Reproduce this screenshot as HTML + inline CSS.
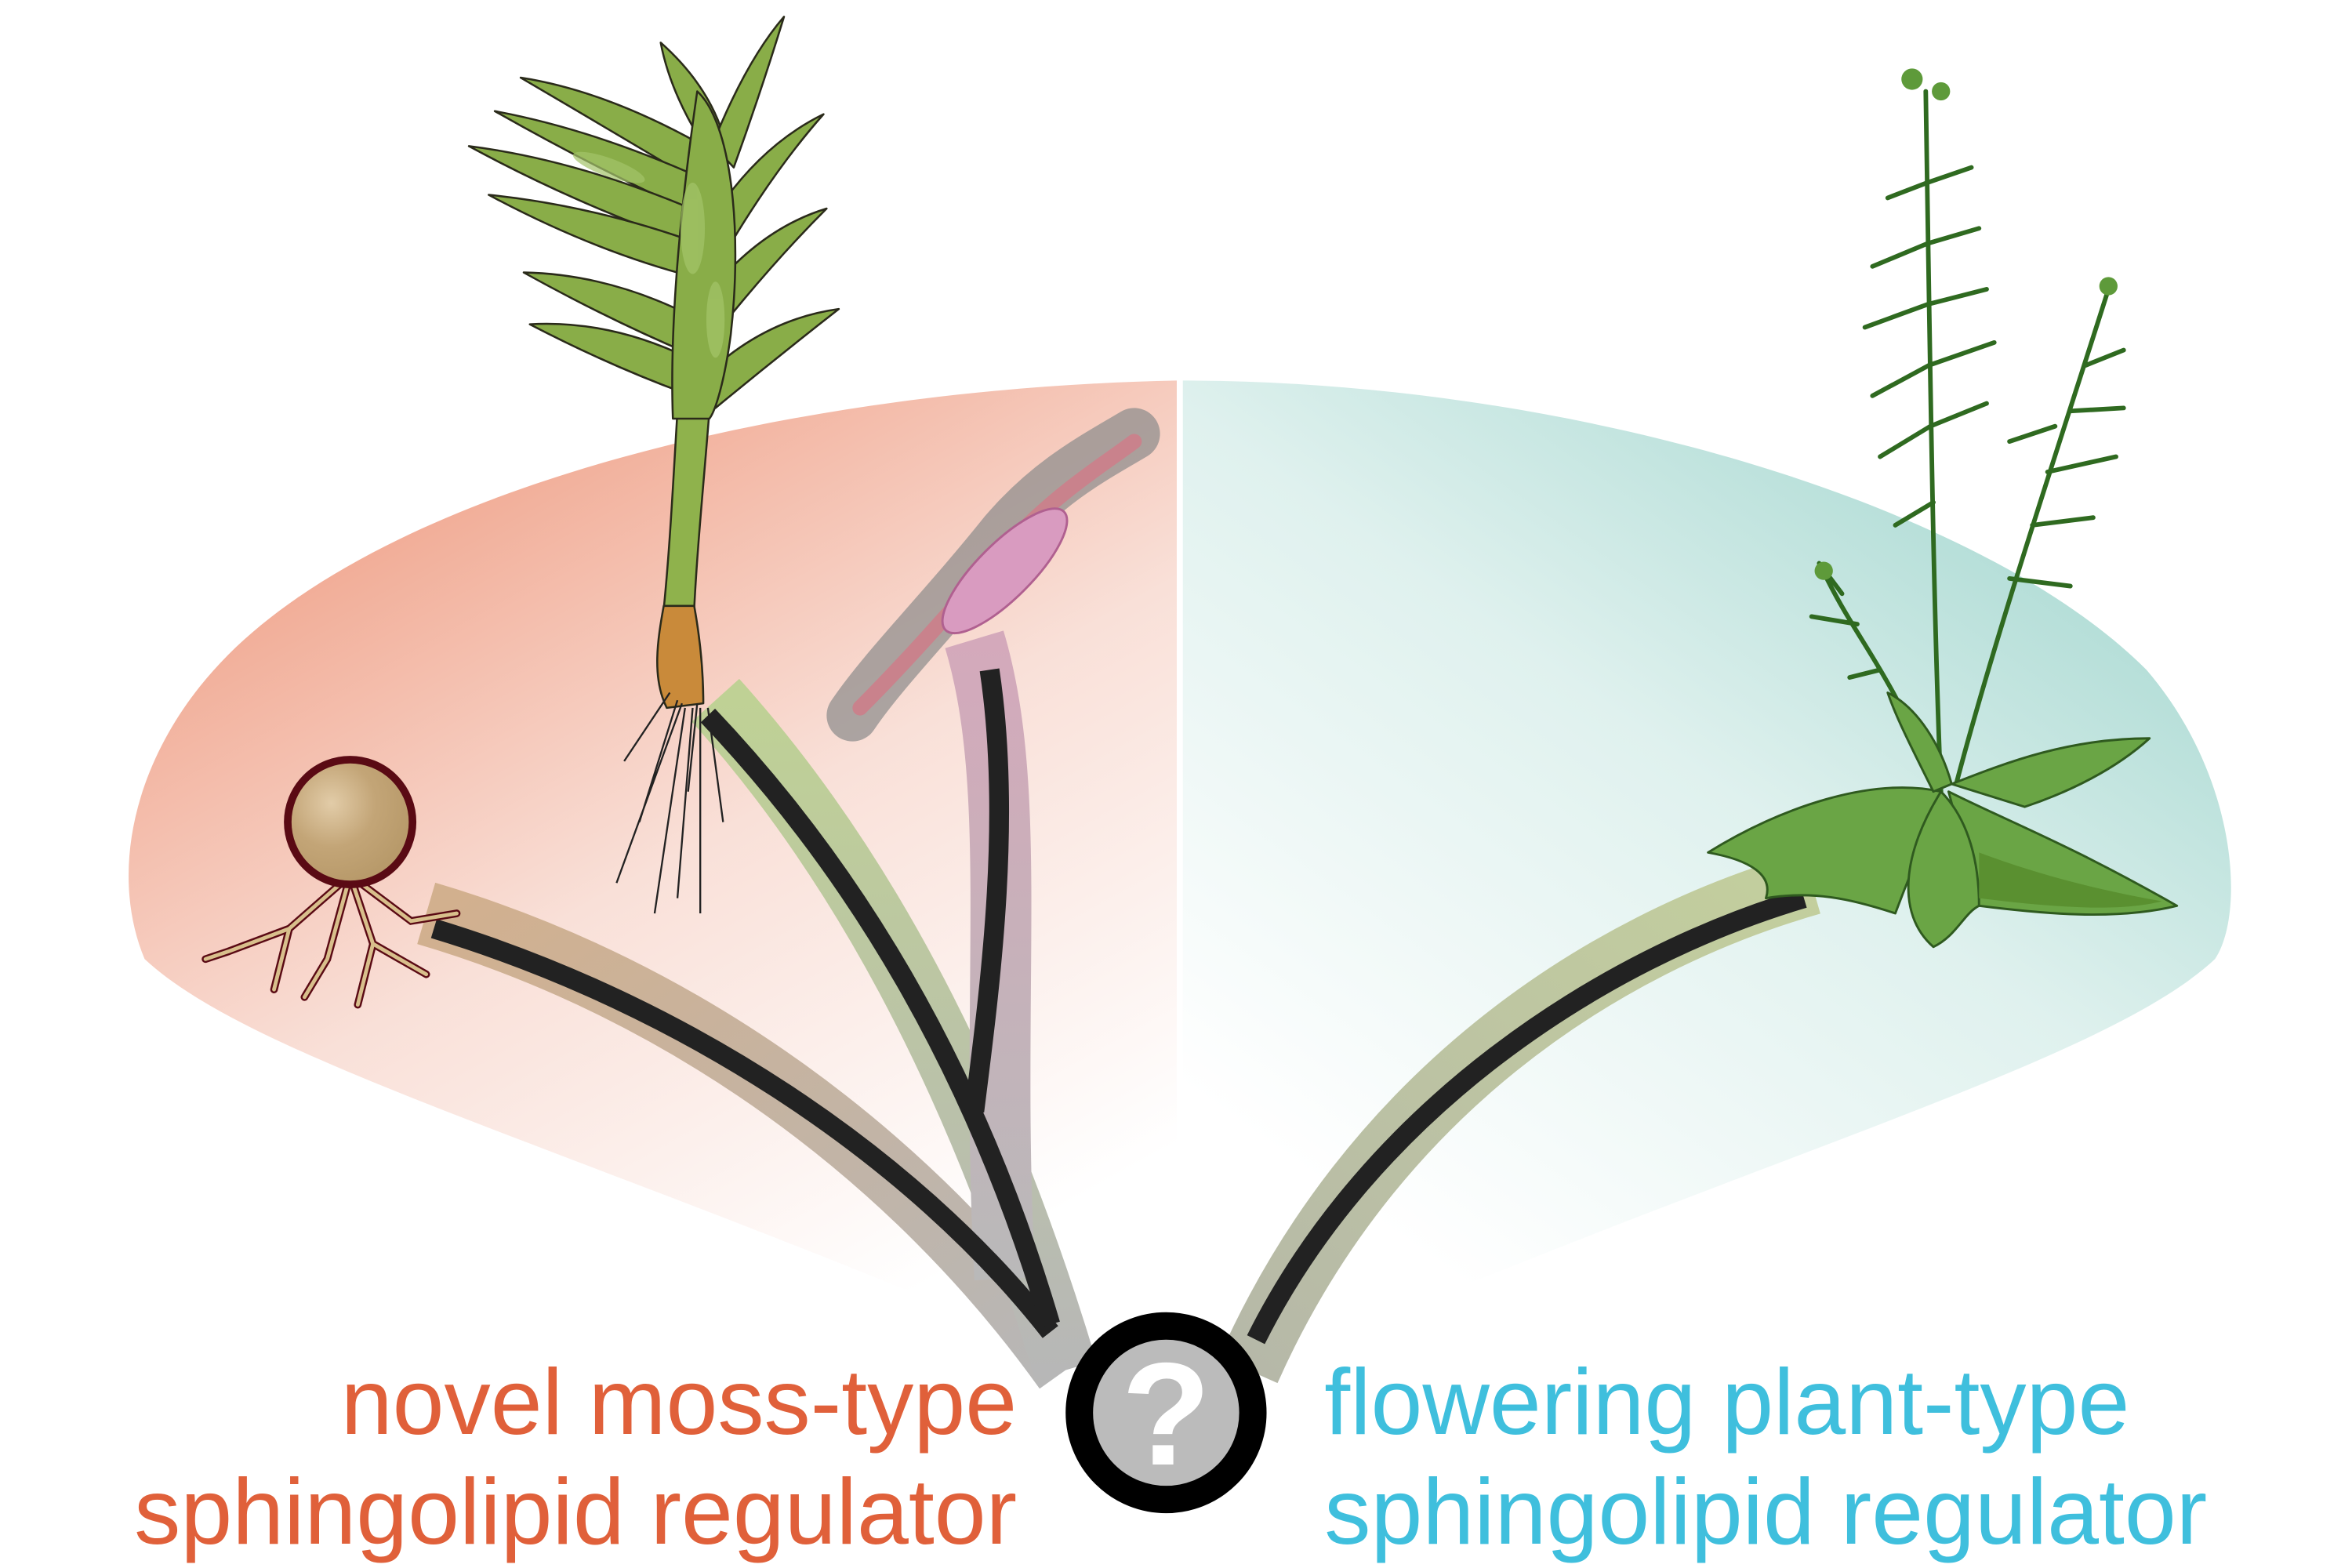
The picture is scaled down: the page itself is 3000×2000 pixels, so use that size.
<!DOCTYPE html>
<html><head><meta charset="utf-8"><style>
html,body{margin:0;padding:0;background:#fff;}
svg{display:block;}
</style></head><body>
<svg width="3000" height="2000" viewBox="0 0 1545 1030" xmlns="http://www.w3.org/2000/svg">
<defs>
<linearGradient id="lf" x1="0.2" y1="0.1" x2="0.7" y2="0.95">
<stop offset="0" stop-color="#f0a48c"/><stop offset="0.5" stop-color="#f9e0d8"/><stop offset="1" stop-color="#ffffff"/>
</linearGradient>
<linearGradient id="rf" x1="0.85" y1="0.1" x2="0.25" y2="0.9">
<stop offset="0" stop-color="#a9d9d2"/><stop offset="0.45" stop-color="#dff1ee"/><stop offset="1" stop-color="#ffffff"/>
</linearGradient>
<linearGradient id="gl" x1="0" y1="0" x2="1" y2="1">
<stop offset="0" stop-color="#d2b08e"/><stop offset="1" stop-color="#b7b7b7"/>
</linearGradient>
<linearGradient id="gm" x1="0" y1="0" x2="0" y2="1">
<stop offset="0" stop-color="#bfd195"/><stop offset="1" stop-color="#b7b7b7"/>
</linearGradient>
<linearGradient id="gp" x1="0" y1="0" x2="0" y2="1">
<stop offset="0" stop-color="#d4a9bb"/><stop offset="1" stop-color="#b9b9b9"/>
</linearGradient>
<linearGradient id="gr" x1="1" y1="0" x2="0" y2="1">
<stop offset="0" stop-color="#c3cf9d"/><stop offset="1" stop-color="#b6b8a8"/>
</linearGradient>
<radialGradient id="sp" cx="0.35" cy="0.35" r="0.7">
<stop offset="0" stop-color="#e2cca8"/><stop offset="0.5" stop-color="#c3a577"/><stop offset="1" stop-color="#b69868"/>
</radialGradient>
</defs>

<path d="M773,250 C 520,255 260,320 150,430 C 90,490 70,570 95,630 C 170,700 400,760 720,900 L 773,900 Z" fill="url(#lf)"/>
<path d="M777,250 C 1030,250 1300,330 1410,440 C 1470,510 1475,600 1455,630 C 1380,700 1150,760 830,900 L 777,900 Z" fill="url(#rf)"/>

<g fill="none" stroke-linecap="butt">
<path d="M280,600 C 450,650 600,760 700,900" stroke="url(#gl)" stroke-width="42"/>
<path d="M470,460 C 560,560 640,700 700,900" stroke="url(#gm)" stroke-width="42"/>
<path d="M640,420 C 670,520 650,650 660,840" stroke="url(#gp)" stroke-width="40"/>
<path d="M1190,580 C 1050,620 900,720 820,900" stroke="url(#gr)" stroke-width="42"/>
<path d="M285,610 C 450,660 600,760 690,875" stroke="#222" stroke-width="13"/>
<path d="M465,470 C 560,570 640,700 690,870" stroke="#222" stroke-width="13"/>
<path d="M650,440 C 665,540 650,650 640,730" stroke="#222" stroke-width="13"/>
<path d="M1185,590 C 1050,630 900,730 825,880" stroke="#222" stroke-width="13"/>
</g>

<g stroke="#5a0a14" stroke-width="5" fill="none" stroke-linecap="round">
<path d="M230,575 L190,610 L150,625 M230,575 L215,630 L200,655 M230,575 L245,620 L280,640 M230,575 L270,605 L300,600 M190,610 L180,650 M245,620 L235,660 M150,625 L135,630"/>
</g>
<g stroke="#d8bf8c" stroke-width="2.5" fill="none" stroke-linecap="round">
<path d="M230,575 L190,610 L150,625 M230,575 L215,630 L200,655 M230,575 L245,620 L280,640 M230,575 L270,605 L300,600 M190,610 L180,650 M245,620 L235,660 M150,625 L135,630"/>
</g>
<circle cx="230" cy="540" r="41" fill="url(#sp)" stroke="#5a0a14" stroke-width="5"/>

<g stroke="#2a2a1a" stroke-width="1.3" stroke-linejoin="round">
<path d="M436,400 C 440,360 442,320 445,270 L 466,270 C 462,320 458,360 456,400 Z" fill="#8fb24c"/>
<g fill="#89ad48">
<path d="M466,98 Q 400,60 342,51 Q 400,85 462,122 Z"/>
<path d="M463,118 Q 390,85 325,73 Q 390,110 460,142 Z"/>
<path d="M461,140 Q 380,105 308,96 Q 380,135 458,162 Z"/>
<path d="M459,160 Q 390,135 321,128 Q 390,165 456,182 Z"/>
<path d="M455,208 Q 400,180 344,179 Q 400,210 452,232 Z"/>
<path d="M452,235 Q 400,210 348,213 Q 400,240 449,258 Z"/>
<path d="M462,95 Q 440,60 434,28 Q 470,60 478,100 Z"/>
<path d="M468,95 Q 490,40 515,11 Q 500,60 482,110 Z"/>
<path d="M470,140 Q 500,95 541,75 Q 510,110 480,160 Z"/>
<path d="M466,192 Q 500,150 543,137 Q 510,170 476,212 Z"/>
<path d="M460,250 Q 500,210 551,203 Q 510,235 470,268 Z"/>
<path d="M458,60 C 480,80 488,150 480,220 C 476,250 470,270 466,275 L 442,275 C 440,220 445,150 458,60 Z"/>
</g>
<path d="M436,398 C 432,420 428,445 438,465 L 462,462 C 462,440 460,420 456,398 Z" fill="#c98a3a"/>
</g>
<g fill="#a4c46a" opacity="0.7">
<ellipse cx="455" cy="150" rx="8" ry="30"/><ellipse cx="470" cy="210" rx="6" ry="25"/><ellipse cx="400" cy="110" rx="25" ry="6" transform="rotate(20 400 110)"/>
</g>
<g stroke="#222" stroke-width="1.2" fill="none">
<path d="M445,460 L420,540 M450,465 L430,600 M455,465 L445,590 M460,465 L460,600 M465,465 L475,540 M440,455 L410,500 M448,462 L405,580 M458,462 L452,520"/>
</g>

<path d="M560,470 C 580,440 620,400 660,350 C 690,315 720,300 745,285" stroke="#8a8a8a" stroke-width="34" stroke-linecap="round" fill="none" opacity="0.7"/>
<path d="M565,465 C 600,430 630,395 670,350 C 700,320 725,305 745,290" stroke="#c9828c" stroke-width="10" stroke-linecap="round" fill="none"/>
<ellipse cx="660" cy="375" rx="55" ry="18" transform="rotate(-45 660 375)" fill="#d99bc0" stroke="#b06090" stroke-width="1.5"/>

<g stroke="#2f6a20" stroke-width="3" fill="none" stroke-linecap="round">
<path d="M1275,520 C 1270,400 1268,250 1265,60"/>
<path d="M1285,515 C 1310,420 1350,300 1385,190"/>
<path d="M1265,500 C 1240,440 1220,420 1200,380"/>
<path d="M1266,120 L1240,130 M1266,120 L1295,110 M1266,160 L1230,175 M1266,160 L1300,150 M1266,200 L1225,215 M1266,200 L1305,190 M1267,240 L1230,260 M1267,240 L1310,225 M1268,280 L1235,300 M1268,280 L1305,265 M1270,330 L1245,345"/>
<path d="M1370,240 L1395,230 M1360,270 L1395,268 M1345,310 L1390,300 M1335,345 L1375,340 M1320,380 L1360,385 M1350,280 L1320,290"/>
<path d="M1220,410 L1190,405 M1210,390 L1195,370 M1235,440 L1215,445"/>
</g>
<g fill="#5e9a3a">
<circle cx="1256" cy="52" r="7"/><circle cx="1275" cy="60" r="6"/><circle cx="1385" cy="188" r="6"/><circle cx="1198" cy="375" r="6"/>
</g>
<g fill="#6aa545" stroke="#2f5a1f" stroke-width="1.5" stroke-linejoin="round">
<path d="M1275,520 C 1230,510 1170,530 1122,560 C 1150,565 1165,575 1160,590 C 1190,585 1215,590 1245,600 C 1260,560 1270,540 1275,520 Z"/>
<path d="M1280,520 C 1320,540 1360,555 1430,595 C 1390,605 1340,600 1300,595 Z"/>
<path d="M1282,515 C 1320,500 1360,485 1412,485 C 1390,505 1360,520 1330,530 Z"/>
<path d="M1275,520 C 1250,560 1245,600 1270,622 C 1285,615 1290,600 1300,595 C 1300,560 1290,535 1275,520 Z"/>
<path d="M1270,520 C 1255,490 1245,470 1240,455 C 1260,465 1275,490 1282,515 Z"/>
</g>
<path d="M1300,560 C 1340,575 1380,585 1420,592 C 1390,600 1340,595 1300,590 Z" fill="#5a9030"/>

<circle cx="766" cy="928" r="57" fill="#bbbbbb" stroke="#000" stroke-width="18"/>
<text x="766" y="962" font-family="Liberation Sans, sans-serif" font-weight="bold" font-size="96" fill="#fff" text-anchor="middle">?</text>

<g font-family="Liberation Sans, sans-serif" font-size="61">
<text x="668" y="942" text-anchor="end" fill="#e0603a">novel moss-type</text>
<text x="668" y="1014" text-anchor="end" fill="#e0603a">sphingolipid regulator</text>
<text x="870" y="942" fill="#3fbfdd">flowering plant-type</text>
<text x="870" y="1014" fill="#3fbfdd">sphingolipid regulator</text>
</g>
</svg>
</body></html>
